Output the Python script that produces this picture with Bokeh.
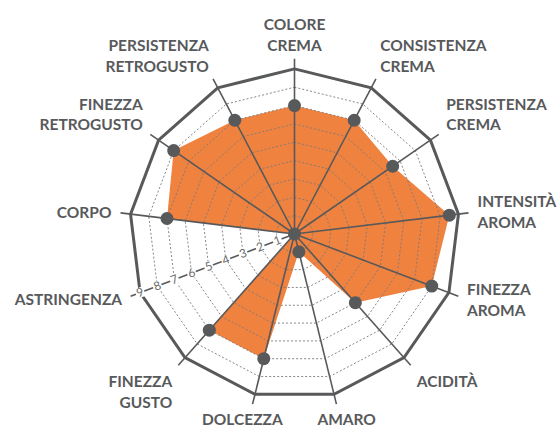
import numpy as np
from bokeh.plotting import figure
from bokeh.models import Range1d
from bokeh.core.properties import value
from bokeh.embed import file_html
from bokeh.resources import INLINE

# ---- data ----
categories = ["COLORE\nCREMA", "CONSISTENZA\nCREMA", "PERSISTENZA\nCREMA",
              "INTENSITÀ\nAROMA", "FINEZZA\nAROMA", "ACIDITÀ", "AMARO",
              "DOLCEZZA", "FINEZZA\nGUSTO", "ASTRINGENZA", "CORPO",
              "FINEZZA\nRETROGUSTO", "PERSISTENZA\nRETROGUSTO"]
scores = [7, 7, 6.5, 8.5, 8, 5, 1, 7, 7, 0, 7, 8, 7]
scale_ticks = [1, 2, 3, 4, 5, 6, 7, 8, 9]
scale_max = 9
scale_axis = "ASTRINGENZA"

# ---- layout ----
W, H = 557, 428
PX = 18.35            # pixels per scale unit
cx, cy = 294, 233.5   # centre in figure pixels (from top-left)

ORANGE = "#F0823F"
DARK = "#58595B"
GRID = "#7a7a7a"

n = len(categories)
theta = np.arange(n) * 2 * np.pi / n   # clockwise from top
sx, sy = np.sin(theta), np.cos(theta)

p = figure(width=W, height=H, output_backend="svg", toolbar_location=None,
           x_axis_location=None, y_axis_location=None,
           x_range=Range1d(-cx / PX, (W - cx) / PX),
           y_range=Range1d(-(H - cy) / PX, cy / PX),
           min_border=0, outline_line_color=None, background_fill_color="white")
p.grid.visible = False

# filled score polygon
sc = np.array(scores, dtype=float)
p.patch(list(sc * sx), list(sc * sy), fill_color=ORANGE, line_color=None)

# dotted rings
ring_levels = [t for t in scale_ticks if t < scale_max]
xs = [list(np.append(k * sx, k * sx[0])) for k in ring_levels]
ys = [list(np.append(k * sy, k * sy[0])) for k in ring_levels]
p.multi_line(xs, ys, line_color=GRID, line_width=1, line_dash="2 2", line_alpha=0.9)

# axis spokes
tip = scale_max + 0.55
p.segment(x0=[0] * n, y0=[0] * n, x1=list(tip * sx), y1=list(tip * sy),
          line_color=DARK, line_width=1.6)

# outer ring
p.line(list(np.append(scale_max * sx, scale_max * sx[0])),
       list(np.append(scale_max * sy, scale_max * sy[0])),
       line_color=DARK, line_width=3, line_join="miter")

# scale numbers along one axis
ai = categories.index(scale_axis)
ang = np.pi / 2 - theta[ai] + np.pi
tk = np.array(scale_ticks, dtype=float)
p.text(x=list(tk * sx[ai]), y=list(tk * sy[ai]), text=[str(t) for t in scale_ticks],
       angle=ang, text_align="center", text_baseline="middle",
       text_font=value("Lato"), text_font_size="12px", text_color="#6a6a6a",
       background_fill_color="white", padding=1)

# points
p.scatter(list(sc * sx), list(sc * sy), size=13, fill_color=DARK, line_color=None)

# category labels
RL = 10.05
for i, lab in enumerate(categories):
    s, c = sx[i], sy[i]
    xo, yo = 0, 0
    if abs(s) < 0.3:
        align = "center"
        if abs(s) > 0.05:
            xo = 8 * np.sign(s)
    elif s > 0:
        align = "left"
    else:
        align = "right"
    if c > 0.5:
        base = "bottom"
        yo = 4
    elif c < -0.5:
        base = "top"
        if c < -0.9:
            yo = -3
    else:
        base = "middle"
    p.text(x=[RL * s], y=[RL * c], text=[lab], text_align=align, text_baseline=base,
           x_offset=xo, y_offset=yo,
           text_font=value("Lato"), text_font_style="bold", text_font_size="15.5px",
           text_color=DARK, text_line_height=1.15)

open("out.html", "w").write(file_html(p, INLINE))
